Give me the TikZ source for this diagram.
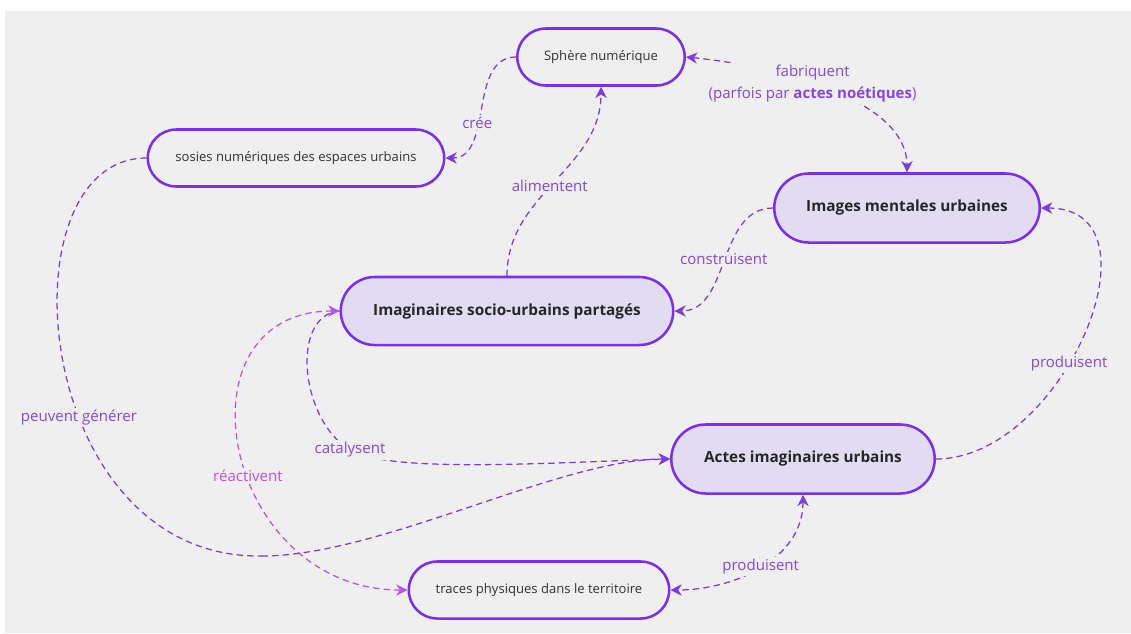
\documentclass[tikz,border=0pt]{standalone}
\usepackage{fontspec}
\setmainfont{Open Sans}
\usetikzlibrary{arrows.meta,shapes.misc}

\definecolor{fondgris}{RGB}{239,239,239}
\definecolor{violetbord}{RGB}{122,47,240}
\definecolor{lavande}{RGB}{226,220,242}
\definecolor{violetlien}{RGB}{125,58,232}
\definecolor{violettexte}{RGB}{132,72,226}
\definecolor{magenta}{RGB}{186,82,236}
\definecolor{gristexte}{RGB}{52,52,52}

\tikzset{
  pilule/.style={rounded rectangle, draw=violetbord, line width=1.8pt,
    inner xsep=2pt, text=gristexte, font=\fontsize{9.3}{11}\selectfont},
  pilulefort/.style={pilule, fill=lavande, text=black!85,
    font=\fontsize{10.9}{13}\bfseries},
  lien/.style={draw=violetlien, line width=0.9pt, dash pattern=on 4pt off 3.5pt,
    -{Stealth[length=8pt,width=8pt,inset=2.5pt]}},
  double/.style={{Stealth[length=8pt,width=8pt,inset=2.5pt]}-{Stealth[length=8pt,width=8pt,inset=2.5pt]}},
  etiq/.style={fill=fondgris, text=violettexte, inner sep=1.5pt,
    font=\fontsize{10.7}{15.5}\selectfont, align=center}
}

\begin{document}
\begin{tikzpicture}[x=0.025cm,y=-0.025cm,line cap=round,line join=round]
  % fond
  \fill[white] (0,0) rectangle (1131,633);
  \fill[fondgris] (5,11) rectangle (1131,633);
  \useasboundingbox (0,0) rectangle (1131,633);

  % noeuds
  \node[pilule,minimum width=4.325cm,minimum height=1.425cm] (sphere) at (601,57) {Sphère numérique};
  \node[pilule,minimum width=7.55cm,minimum height=1.425cm] (sosies) at (296,158) {sosies numériques des espaces urbains};
  \node[pilulefort,minimum width=6.775cm,minimum height=1.725cm] (images) at (907,208) {Images mentales urbaines};
  \node[pilulefort,minimum width=8.45cm,minimum height=1.7cm] (imag) at (507,311) {Imaginaires socio-urbains partagés};
  \node[pilulefort,minimum width=6.725cm,minimum height=1.725cm] (actes) at (803,459) {Actes imaginaires urbains};
  \node[pilule,minimum width=6.65cm,minimum height=1.425cm] (traces) at (539,590) {traces physiques dans le territoire};
  \coordinate (creux) at (262,556);
  \coordinate (coude) at (350,450);

  % liens
  \draw[lien] (sphere.west) to[out=180,in=0] node[etiq,pos=0.6] {crée} (sosies.east);
  \draw[lien] (imag.north) to[out=90,in=-90] node[etiq,pos=0.47] {alimentent} (sphere.south);
  \draw[lien,double] (sphere.east) .. controls +(100,10) and +(0,-70) .. (images.north)
    node[etiq,pos=0.42] {fabriquent\\(parfois par \textbf{actes noétiques})};
  \draw[lien] (images.west) to[out=180,in=0] node[etiq] {construisent} (imag.east);
  \draw[lien] (actes.east) to[out=0,in=0,looseness=1.2] node[etiq,pos=0.42] {produisent} (images.east);
  \draw[lien,-] (imag.west) .. controls (290,315) and (300,420) .. (coude);
  \draw[lien] (coude) .. controls (390,474) and (560,462) .. (actes.west);
  \node[etiq] at (coude) {catalysent};
  \draw[lien,draw=magenta,double]
    (imag.west) .. controls +(-168,0) and +(-186,0) .. (traces.west)
    node[etiq,text=magenta,pos=0.56] {réactivent};
  \draw[lien,-] (sosies.west) .. controls (0,158) and (30,560) .. (creux)
    node[etiq,pos=0.6] {peuvent générer};
  \draw[lien] (creux) .. controls (380,556) and (560,459) .. (actes.west);
  \draw[lien,double] (actes.south) to[out=-90,in=0] node[etiq,pos=0.5] {produisent} (traces.east);
\end{tikzpicture}
\end{document}
